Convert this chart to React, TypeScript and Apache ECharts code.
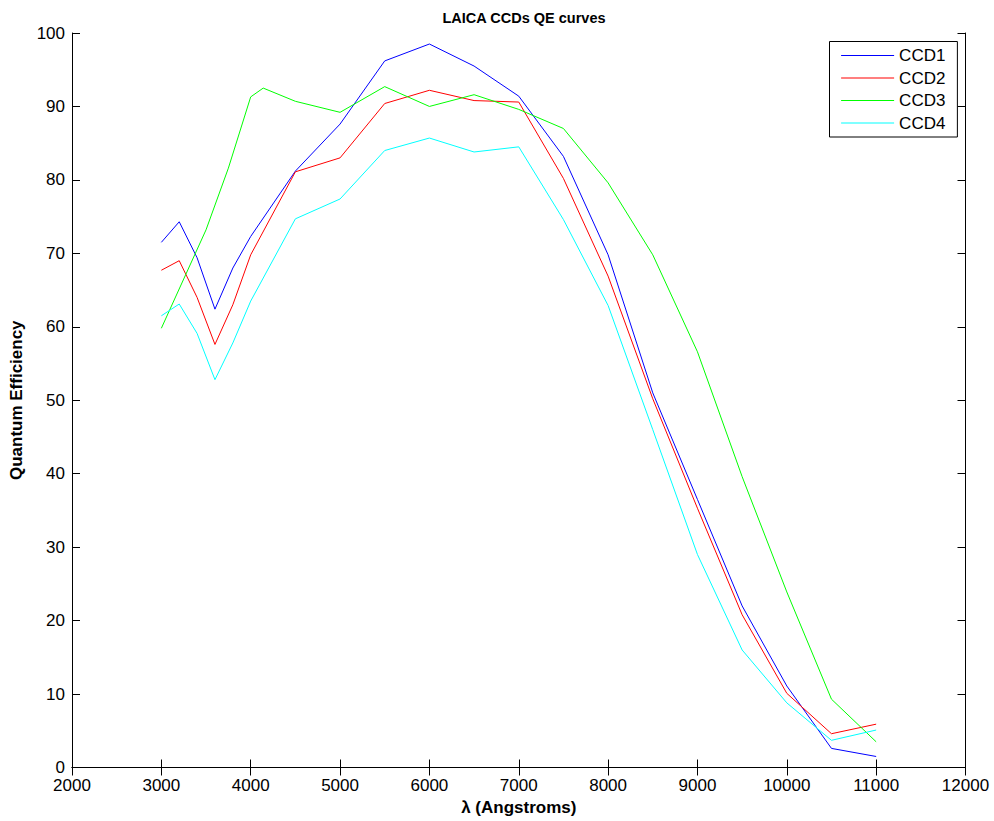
import React, { useEffect, useRef } from "react";
import * as echarts from "echarts";

const titleText = "LAICA CCDs QE curves";
const xAxisName = "λ (Angstroms)";
const yAxisName = "Quantum Efficiency";
const seriesNames = ["CCD1", "CCD2", "CCD3", "CCD4"];
const seriesColors = ["#0000ff", "#ff0000", "#00ff00", "#00ffff"];

const wavelengths = [3000, 3200, 3400, 3600, 3800, 4000, 4500, 5000, 5500, 6000, 6500, 7000, 7500, 8000, 8500, 9000, 9500, 10000, 10500, 11000];
const ccd1 = [71.5, 74.3, 69.4, 62.4, 68.0, 72.3, 81.2, 87.6, 96.2, 98.5, 95.5, 91.4, 83.2, 69.8, 51.0, 36.5, 22.0, 11.1, 2.6, 1.5];
const ccd2 = [67.7, 69.0, 64.0, 57.6, 63.0, 69.8, 81.1, 83.0, 90.4, 92.2, 90.8, 90.6, 80.2, 66.9, 50.2, 35.3, 20.8, 10.1, 4.6, 5.9];
const ccd4 = [61.5, 63.1, 59.1, 52.8, 57.8, 63.5, 74.7, 77.4, 84.0, 85.7, 83.8, 84.5, 74.6, 62.9, 46.0, 29.0, 16.0, 8.8, 3.7, 5.1];

const ccd3Wavelengths = [3000, 3500, 3750, 4000, 4140, 4500, 5000, 5500, 6000, 6500, 7000, 7500, 8000, 8500, 9000, 9500, 10000, 10500, 11000];
const ccd3 = [59.8, 73.2, 81.6, 91.3, 92.5, 90.7, 89.2, 92.7, 90.0, 91.6, 89.6, 87.0, 79.6, 69.8, 56.6, 39.6, 23.9, 9.3, 3.5];

const FONT = "'Liberation Sans', Arial, Helvetica, sans-serif";

function pairs(xs: number[], ys: number[]) {
  return xs.map((x, i) => [x, ys[i]]);
}

export default function App() {
  const ref = useRef<HTMLDivElement>(null);
  useEffect(() => {
    document.body.style.margin = "0";
    const chart = echarts.init(ref.current!, null, { renderer: "svg" });
    const data = [
      pairs(wavelengths, ccd1),
      pairs(wavelengths, ccd2),
      pairs(ccd3Wavelengths, ccd3),
      pairs(wavelengths, ccd4),
    ];
    const axisLine = { show: true, lineStyle: { color: "#000", width: 1 } };
    const axisTick = { show: true, inside: true, length: 8, lineStyle: { color: "#000", width: 1 } };
    const xCommon = { type: "value", min: 2000, max: 12000, interval: 1000, splitLine: { show: false }, axisLine, axisTick };
    const yCommon = { type: "value", min: 0, max: 100, interval: 10, splitLine: { show: false }, axisLine, axisTick };
    chart.setOption({
      animation: false,
      backgroundColor: "#fff",
      title: {
        text: titleText,
        left: 519,
        top: 5,
        textAlign: "center",
        textStyle: { fontFamily: FONT, fontSize: 14.5, fontWeight: "bold", color: "#000" },
      },
      legend: {
        orient: "vertical",
        left: 829.5,
        top: 41.5,
        padding: [5.5, 12, 5.5, 11],
        itemGap: 5.5,
        itemWidth: 53,
        itemHeight: 14,
        itemStyle: { opacity: 0 },
        borderColor: "#000",
        borderWidth: 1,
        borderRadius: 0,
        backgroundColor: "#fff",
        data: seriesNames.map((name, i) => ({
          name,
          itemStyle: { opacity: 0 },
          lineStyle: { color: seriesColors[i], width: 1.2, opacity: 1 },
        })),
        textStyle: { fontFamily: FONT, fontSize: 17, color: "#000", lineHeight: 17 },
      },
      grid: { left: 72, top: 33, right: 28.5, bottom: 53.5, containLabel: false },
      xAxis: [
        {
          ...xCommon,
          position: "bottom",
          name: xAxisName,
          nameLocation: "middle",
          nameGap: 30,
          nameTextStyle: { fontFamily: FONT, fontSize: 17, fontWeight: "bold", color: "#000" },
          axisLabel: {
            show: true,
            margin: 11,
            lineHeight: 14,
            fontFamily: FONT,
            fontSize: 17,
            color: "#000",
            formatter: (v: number) => String(v),
          },
        },
        { ...xCommon, position: "top", axisLabel: { show: false } },
      ],
      yAxis: [
        {
          ...yCommon,
          position: "left",
          name: yAxisName,
          nameLocation: "middle",
          nameGap: 47,
          nameTextStyle: { fontFamily: FONT, fontSize: 17, fontWeight: "bold", color: "#000" },
          axisLabel: { show: true, margin: 7, lineHeight: 14, fontFamily: FONT, fontSize: 17, color: "#000" },
        },
        { ...yCommon, position: "right", axisLabel: { show: false } },
      ],
      series: seriesNames.map((name, i) => ({
        name,
        type: "line",
        xAxisIndex: 0,
        yAxisIndex: 0,
        data: data[i],
        symbol: "none",
        showSymbol: false,
        silent: true,
        color: seriesColors[i],
        itemStyle: { color: seriesColors[i] },
        lineStyle: { color: seriesColors[i], width: 1 },
        emphasis: { disabled: true },
      })),
    });
    return () => chart.dispose();
  }, []);
  return (
    <div
      ref={ref}
      style={{ position: "absolute", left: 0, top: 0, width: 994, height: 821 }}
    />
  );
}
